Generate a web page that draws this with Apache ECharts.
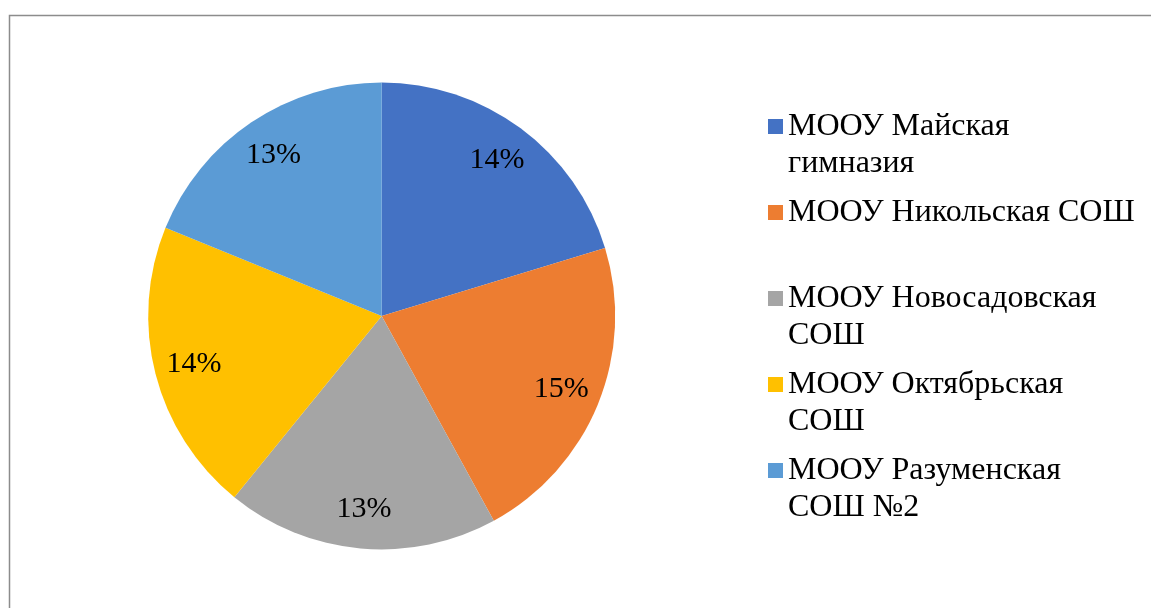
<!DOCTYPE html>
<html>
<head>
<meta charset="utf-8">
<script src="https://cdn.jsdelivr.net/npm/echarts@6/dist/echarts.min.js"></script>
<style>
html,body{margin:0;padding:0;background:#fff;}
#chart{width:1151px;height:608px;}
</style>
</head>
<body>
<div id="chart"></div>
<script>
const categories = ['МООУ Майская гимназия', 'МООУ Никольская СОШ', 'МООУ Новосадовская СОШ', 'МООУ Октябрьская СОШ', 'МООУ Разуменская СОШ №2'];
const legendLabels = ['МООУ Майская\nгимназия', 'МООУ Никольская СОШ\n ', 'МООУ Новосадовская\nСОШ', 'МООУ Октябрьская\nСОШ', 'МООУ Разуменская\nСОШ №2'];
const values = [14, 15, 13, 14, 13];
const colors = ['#4472C4', '#ED7D31', '#A5A5A5', '#FFC000', '#5B9BD5'];

const FONT = '"Liberation Serif", "Times New Roman", serif';
const pieData = categories.map((n, i) => ({ name: n, value: values[i], itemStyle: { color: colors[i] } }));

const chart = echarts.init(document.getElementById('chart'), null, { renderer: 'canvas' });
chart.setOption({
  animation: false,
  backgroundColor: '#ffffff',
  graphic: [{
    type: 'rect',
    shape: { x: 9.5, y: 15.5, width: 1300, height: 800 },
    style: { fill: 'none', stroke: '#8c8c8c', lineWidth: 1.5 },
    silent: true,
    z: -10
  }],
  legend: {
    orient: 'vertical',
    left: 768,
    top: 108,
    padding: 0,
    itemWidth: 15,
    itemHeight: 52,
    itemGap: 12,
    textGap: 8,
    icon: 'path://M0,0H15V15H0Z M0,52',
    textStyle: { fontFamily: FONT, fontSize: 32, lineHeight: 37, color: '#000' },
    formatter: function (name) {
      const i = categories.indexOf(name);
      return i >= 0 ? legendLabels[i] : name;
    },
    data: categories
  },
  series: [{
    type: 'pie',
    center: [381.7, 316],
    radius: [0, 233.5],
    startAngle: 90,
    clockwise: true,
    avoidLabelOverlap: false,
    label: { show: false },
    labelLine: { show: false },
    itemStyle: { borderWidth: 0 },
    emphasis: { disabled: true },
    data: pieData
  }, {
    type: 'pie',
    center: [381.7, 316],
    radius: [148, 233.5],
    startAngle: 90,
    clockwise: true,
    silent: true,
    avoidLabelOverlap: false,
    itemStyle: { color: 'rgba(0,0,0,0)', borderWidth: 0 },
    label: {
      show: true,
      position: 'inside',
      formatter: '{c}%',
      fontFamily: FONT,
      fontSize: 30,
      color: '#000'
    },
    labelLine: { show: false },
    emphasis: { disabled: true },
    data: categories.map((n, i) => ({ name: n, value: values[i] }))
  }]
});
</script>
</body>
</html>
